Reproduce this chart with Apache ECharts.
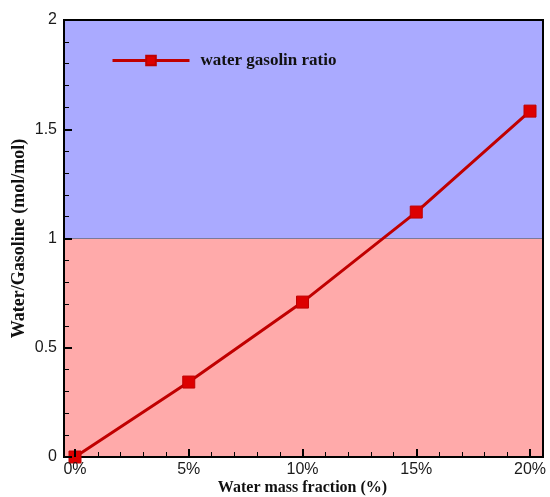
<!DOCTYPE html>
<html>
<head>
<meta charset="utf-8">
<script src="https://cdn.jsdelivr.net/npm/echarts@6/dist/echarts.min.js"></script>
<style>html,body{margin:0;padding:0;background:#fff;}#c{width:550px;height:497px;}</style>
</head>
<body>
<div id="c"></div>
<script>
const waterFraction = [0, 5, 10, 15, 20];
const ratioValues = [0, 0.343, 0.709, 1.121, 1.583];
const seriesName = 'water gasolin ratio';
const xTitle = 'Water mass fraction (%)';
const yTitle = 'Water/Gasoline (mol/mol)';
const lowerBand = [0, 1];
const upperBand = [1, 2];

const chart = echarts.init(document.getElementById('c'));
const pts = waterFraction.map((x, i) => [x, ratioValues[i]]);
function tickStyle() { return { show: true, inside: true, length: 8, lineStyle: { color: '#000', width: 2 } }; }
function minorStyle() { return { show: true, splitNumber: 5, length: 5, lineStyle: { color: '#000', width: 1 } }; }
const labelStyle = { color: '#1a1a1a', fontSize: 16, fontFamily: 'Liberation Sans' };
const nameStyle = { color: '#111', fontSize: 16, fontWeight: 'bold', fontFamily: 'Liberation Serif' };

chart.setOption({
  animation: false,
  grid: [
    { left: 64, right: 7, top: 20, bottom: 40, containLabel: false, outerBoundsMode: 'none', show: true, borderColor: '#000', borderWidth: 2, backgroundColor: 'transparent', zlevel: 1 },
    { left: 75, right: 20, top: 20, bottom: 40, containLabel: false, outerBoundsMode: 'none', zlevel: 1 }
  ],
  legend: {
    left: 106, top: 47, itemWidth: 77, itemHeight: 12, itemGap: 10, zlevel: 1,
    data: [seriesName],
    lineStyle: { width: 3, color: '#c00000' },
    textStyle: { color: '#111', fontSize: 17, fontWeight: 'bold', fontFamily: 'Liberation Serif', padding: [0, 0, 0, 6] }
  },
  xAxis: [
    { gridIndex: 0, type: 'value', min: 0, max: 1, show: false },
    { gridIndex: 1, type: 'value', min: 0, max: 20, interval: 5, zlevel: 1, z: 10,
      axisLine: { show: false }, axisTick: tickStyle(), minorTick: minorStyle(),
      splitLine: { show: false }, minorSplitLine: { show: false },
      axisLabel: Object.assign({ formatter: '{value}%', margin: 5 }, labelStyle),
      name: xTitle, nameLocation: 'middle', nameGap: 23, nameMoveOverlap: false, nameTextStyle: nameStyle }
  ],
  yAxis: [
    { gridIndex: 0, type: 'value', min: 0, max: 2, interval: 0.5, zlevel: 1, z: 10,
      axisLine: { show: true, lineStyle: { color: '#000', width: 2 } },
      axisTick: tickStyle(), minorTick: minorStyle(),
      splitLine: { show: false }, minorSplitLine: { show: false },
      axisLabel: Object.assign({ margin: 7 }, labelStyle),
      name: yTitle, nameLocation: 'middle', nameGap: 36, nameRotate: 90, nameMoveOverlap: false,
      nameTextStyle: Object.assign({}, nameStyle, { fontSize: 18 }) },
    { gridIndex: 1, type: 'value', min: 0, max: 2, show: false }
  ],
  series: [
    { type: 'line', xAxisIndex: 0, yAxisIndex: 0, data: [[0, 0], [1, 0]], symbol: 'none',
      lineStyle: { opacity: 0 }, silent: true, zlevel: 0, z: 1,
      markArea: { silent: true, data: [
        [{ yAxis: lowerBand[0], itemStyle: { color: '#ffaaaa' } }, { yAxis: lowerBand[1] }],
        [{ yAxis: upperBand[0], itemStyle: { color: '#aaaaff' } }, { yAxis: upperBand[1] }]
      ] },
      markLine: { silent: true, symbol: 'none', label: { show: false },
        lineStyle: { color: '#7a7a9a', width: 1, type: 'solid' }, data: [{ yAxis: upperBand[0] }] }
    },
    { name: seriesName, type: 'line', xAxisIndex: 1, yAxisIndex: 1, data: pts,
      symbol: 'rect', symbolSize: 12, clip: false, zlevel: 1, z: 3,
      lineStyle: { color: '#c00000', width: 3 },
      itemStyle: { color: '#dd0000', borderColor: '#c00000', borderWidth: 1 } }
  ]
});
</script>
</body>
</html>
